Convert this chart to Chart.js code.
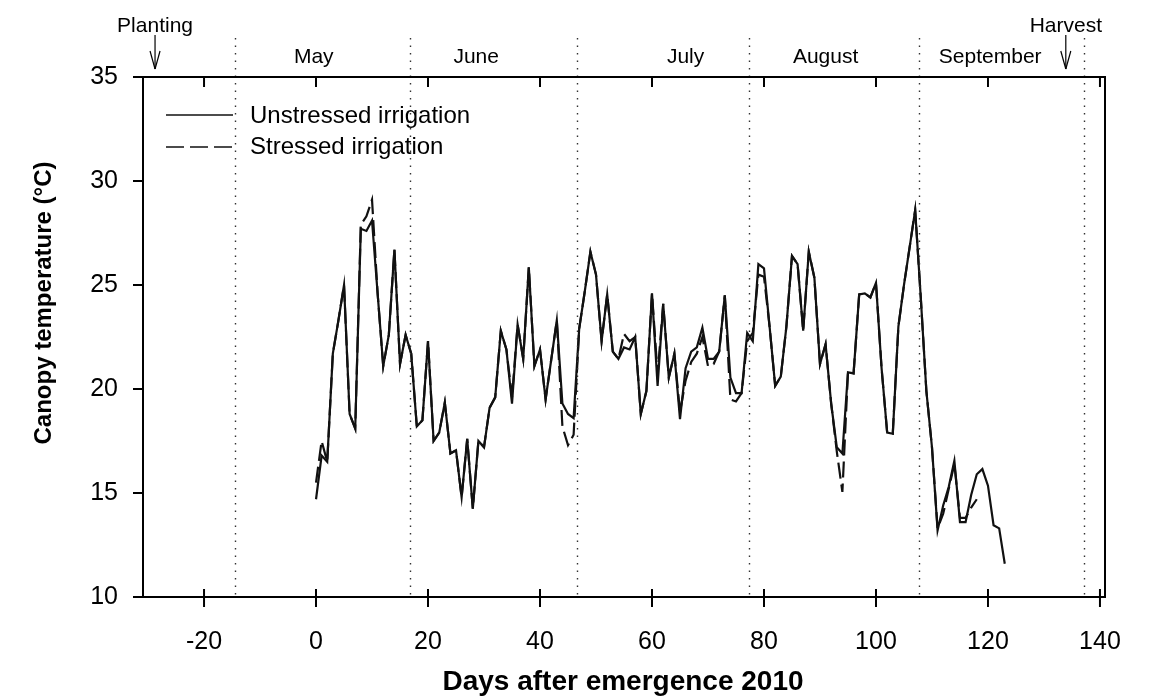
<!DOCTYPE html>
<html><head><meta charset="utf-8">
<script src="https://cdn.jsdelivr.net/npm/chart.js@4"></script>
<style>html,body{margin:0;padding:0;background:#fff;}#wrap{width:1150px;height:700px;}</style>
</head><body><div id="wrap"><canvas id="c" width="1150" height="700"></canvas></div>
<script>
const days = [0,1,2,3,4,5,6,7,8,9,10,11,12,13,14,15,16,17,18,19,20,21,22,23,24,25,26,27,28,29,30,31,32,33,34,35,36,37,38,39,40,41,42,43,44,45,46,47,48,49,50,51,52,53,54,55,56,57,58,59,60,61,62,63,64,65,66,67,68,69,70,71,72,73,74,75,76,77,78,79,80,81,82,83,84,85,86,87,88,89,90,91,92,93,94,95,96,97,98,99,100,101,102,103,104,105,106,107,108,109,110,111,112,113,114,115,116,117,118,119,120,121,122,123];
const unstressed = [14.7,16.8,16.5,21.7,23.3,25.0,18.8,18.1,27.7,27.6,28.1,24.6,21.1,22.6,26.7,21.2,22.6,21.7,18.2,18.5,22.3,17.5,17.9,19.35,16.9,17.05,14.8,17.6,14.25,17.5,17.2,19.1,19.6,22.8,21.9,19.3,23.1,21.45,25.85,21.1,21.9,19.5,21.4,23.3,19.3,18.8,18.6,22.9,24.7,26.6,25.5,22.3,24.55,21.8,21.45,22.0,21.9,22.5,18.8,19.9,24.6,20.15,24.1,20.55,21.7,18.55,21.0,21.8,22.0,22.95,21.45,21.45,21.8,24.5,20.55,19.8,19.8,22.7,22.3,26.0,25.8,23.0,20.15,20.6,23.0,26.4,26.0,22.8,26.6,25.35,21.2,22.15,19.3,17.2,16.9,20.8,20.75,24.55,24.6,24.4,25.1,21.0,17.9,17.85,23.0,25.0,26.8,28.6,24.4,19.9,17.2,13.2,14.4,15.3,16.55,13.6,13.6,14.9,15.9,16.15,15.35,13.45,13.3,11.6];
const stressed = [15.5,17.5,16.5,21.7,23.3,25.0,18.8,18.1,27.9,28.3,29.1,24.6,21.1,22.6,26.7,21.2,22.6,21.7,18.2,18.5,22.3,17.5,17.9,19.35,16.9,17.05,14.8,17.6,14.25,17.5,17.2,19.1,19.6,22.8,21.9,19.6,23.1,21.45,25.85,21.1,21.9,19.5,21.4,23.3,18.2,17.3,17.8,22.9,24.7,26.6,25.5,22.3,24.55,21.8,21.45,22.65,22.3,22.5,18.8,19.9,24.6,20.7,24.1,20.55,21.7,18.9,20.4,21.3,21.7,22.5,21.1,21.2,21.8,24.5,19.5,19.4,19.8,22.3,22.7,25.5,25.4,23.0,20.15,20.6,23.0,26.4,26.0,22.8,26.6,25.35,21.2,22.15,19.3,17.0,15.05,20.8,20.75,24.55,24.6,24.4,25.1,21.0,17.9,17.85,23.0,25.0,26.8,28.6,24.4,19.9,17.2,13.3,14.0,15.2,16.4,13.8,13.8,14.3,14.7,null,null,null,null,null];
const seriesNames = ['Unstressed irrigation','Stressed irrigation'];
const xTicks = [-20,0,20,40,60,80,100,120,140];
const yTicks = [10,15,20,25,30,35];
const monthNames = ['May','June','July','August','September'];
const monthLabelDays = [-0.4,28.6,66,91,120.4];
const monthBoundaries = [-14.5,16.8,46.6,77.3,107.7,137.2];
const eventNames = ['Planting','Harvest'];
const eventDays = [-28.75,133.9];
const xTitle = 'Days after emergence 2010';
const yTitle = 'Canopy temperature (\u00B0C)';

const FONT = "'Liberation Sans', Arial, Helvetica, sans-serif";

function pts(vals){ return days.map((d,i)=>({x:d,y:vals[i]})); }

const deco = {
  id:'deco',
  afterDraw(chart){
    const {ctx, chartArea:a, scales:{x,y}} = chart;
    ctx.save();
    const line=(x1,y1,x2,y2)=>{ctx.beginPath();ctx.moveTo(x1,y1);ctx.lineTo(x2,y2);ctx.stroke();};
    // dotted month boundaries
    ctx.strokeStyle='#333'; ctx.lineWidth=1.4; ctx.setLineDash([1.5,6]);
    monthBoundaries.forEach(d=>{const px=Math.round(x.getPixelForValue(d))+0.5; line(px,38,px,a.bottom);});
    ctx.setLineDash([]);
    // frame
    ctx.strokeStyle='#000'; ctx.lineWidth=2;
    ctx.strokeRect(a.left,a.top,a.right-a.left,a.bottom-a.top);
    // y ticks (outward)
    yTicks.forEach(v=>{const py=y.getPixelForValue(v); line(a.left-10,py,a.left,py);});
    // x ticks
    xTicks.forEach(v=>{const px=x.getPixelForValue(v); line(px,a.bottom-8,px,a.bottom+10); line(px,a.top,px,a.top+10);});
    // month labels
    ctx.fillStyle='#000'; ctx.font='21px '+FONT; ctx.textAlign='center'; ctx.textBaseline='alphabetic';
    monthNames.forEach((m,i)=>ctx.fillText(m, x.getPixelForValue(monthLabelDays[i]), 63));
    // events
    ctx.lineWidth=1.2;
    eventNames.forEach((n,i)=>{
      const px=x.getPixelForValue(eventDays[i]);
      ctx.fillText(n, px, 32);
      line(px,35,px,69); line(px-5,51,px,69); line(px+5,51,px,69);
    });
    // legend
    ctx.lineWidth=1.5; ctx.strokeStyle='#111';
    line(166,115,233,115);
    ctx.setLineDash([18,6]); line(166,147,233,147); ctx.setLineDash([]);
    ctx.font='24px '+FONT; ctx.textAlign='left'; ctx.textBaseline='middle';
    ctx.fillText(seriesNames[0],250,116);
    ctx.fillText(seriesNames[1],250,147);
    // titles
    ctx.textAlign='center'; ctx.textBaseline='middle';
    ctx.font='bold 28px '+FONT;
    ctx.fillText(xTitle, 623, 682);
    ctx.font='bold 24px '+FONT;
    ctx.save(); ctx.translate(44,303); ctx.rotate(-Math.PI/2); ctx.fillText(yTitle,0,0); ctx.restore();
    ctx.restore();
  }
};

new Chart(document.getElementById('c'), {
  type:'line',
  data:{datasets:[
    {label:seriesNames[0], data:pts(unstressed), borderColor:'#111', borderWidth:2.2, pointRadius:0, tension:0, fill:false, spanGaps:false},
    {label:seriesNames[1], data:pts(stressed), borderColor:'#111', borderWidth:2.2, borderDash:[16,6], pointRadius:0, tension:0, fill:false, spanGaps:false}
  ]},
  options:{
    responsive:false, animation:false, devicePixelRatio:1,
    layout:{padding:{top:77,right:45,left:0,bottom:0}},
    plugins:{legend:{display:false}, tooltip:{enabled:false}},
    scales:{
      x:{type:'linear', min:-30.9, max:140.9,
         afterBuildTicks:s=>{s.ticks=xTicks.map(v=>({value:v}));},
         afterFit:s=>{s.height=103;},
         grid:{display:false}, border:{display:false},
         ticks:{color:'#000', font:{family:FONT,size:25}, padding:22, maxRotation:0, autoSkip:false}},
      y:{type:'linear', min:10, max:35,
         afterBuildTicks:s=>{s.ticks=yTicks.map(v=>({value:v}));},
         afterFit:s=>{s.width=143;},
         grid:{display:false}, border:{display:false},
         ticks:{color:'#000', font:{family:FONT,size:25}, padding:17}}
    }
  },
  plugins:[deco]
});
</script></body></html>
